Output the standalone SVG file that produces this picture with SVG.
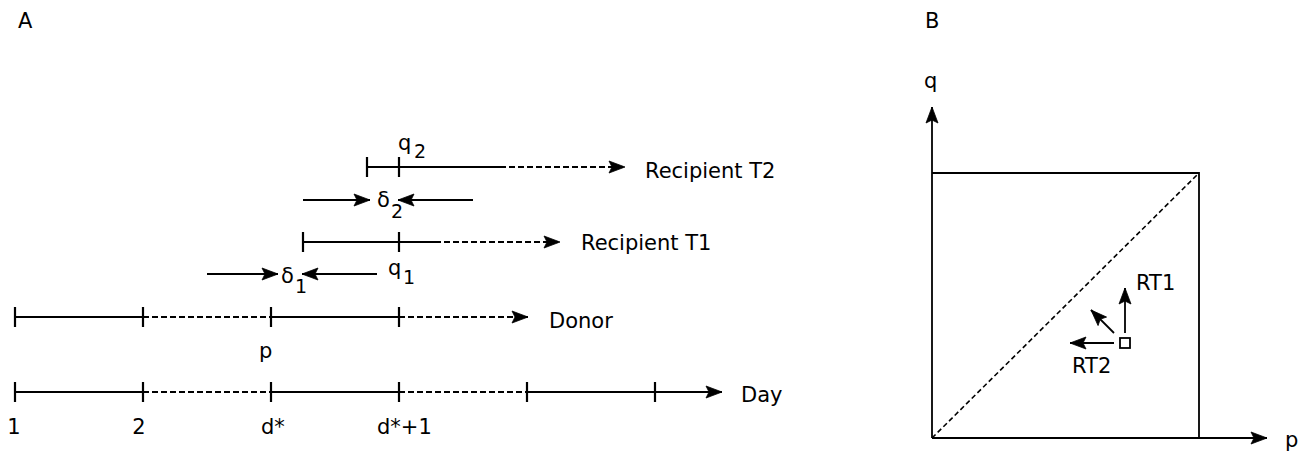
<svg xmlns="http://www.w3.org/2000/svg" width="1303" height="453" viewBox="0 0 1303 453">
<style>
text{font-family:"DejaVu Sans","Liberation Sans",sans-serif;font-size:21px;fill:#000}
.sub{font-size:19px}
.s{stroke:#000;stroke-width:2.2;fill:none}
.d{stroke:#000;stroke-width:2.2;fill:none;stroke-dasharray:6 3}
.b{stroke:#000;stroke-width:1.8;fill:none}
.bd{stroke:#000;stroke-width:1.6;fill:none;stroke-dasharray:5 3}
</style>
<defs>
<marker id="ah" markerUnits="userSpaceOnUse" markerWidth="18" markerHeight="14" viewBox="0 0 18 14" refX="16" refY="7" orient="auto" overflow="visible">
<path d="M0,1 L16,7 L0,13 L3,7 z" fill="#000" stroke="#000" stroke-width="0.8" stroke-linejoin="miter"/>
</marker>
</defs>
<text x="18" y="28">A</text>
<text x="925" y="28">B</text>
<g id="connectors">
<path class="s" d="M367,167 H500 M367,157 V177 M399,157 V177"/>
<path class="d" d="M500,167 H625" marker-end="url(#ah)"/>
<path class="s" d="M303,200 H370" marker-end="url(#ah)"/>
<path class="s" d="M473,200 H398" marker-end="url(#ah)"/>
<path class="s" d="M303,242 H435 M303,232 V252 M399,232 V252"/>
<path class="d" d="M435,242 H560" marker-end="url(#ah)"/>
<path class="s" d="M207,274 H278" marker-end="url(#ah)"/>
<path class="s" d="M377,274 H302" marker-end="url(#ah)"/>
<path class="s" d="M15,317 H143 M271,317 H399 M15,307 V327 M143,307 V327 M271,307 V327 M399,307 V327"/>
<path class="d" d="M143,317 H271"/>
<path class="d" d="M399,317 H528" marker-end="url(#ah)"/>
<path class="s" d="M15,392 H143 M271,392 H399 M15,382 V402 M143,382 V402 M271,382 V402 M399,382 V402 M527,382 V402 M655,382 V402"/>
<path class="d" d="M143,392 H271 M399,392 H527"/>
<path class="s" d="M527,392 H722" marker-end="url(#ah)"/>
<path class="b" d="M932,438 V107" marker-end="url(#ah)"/>
<path class="b" d="M932,438 H1267" marker-end="url(#ah)"/>
<path class="b" d="M932,173 H1199 V438"/>
<path class="bd" d="M932,438 L1199,173"/>
<path class="b" d="M1125,333 V288" marker-end="url(#ah)"/>
<path class="b" d="M1114,333 L1091,310" marker-end="url(#ah)"/>
<path class="b" d="M1114,343 H1070" marker-end="url(#ah)"/>
</g>
<g id="node-recipient-t2">
<text x="645" y="178">Recipient T2</text>
<text x="398" y="150">q</text><text class="sub" x="414" y="158">2</text>
</g>
<g id="node-delta2">
<text x="377" y="207">δ</text><text class="sub" x="391" y="218">2</text>
</g>
<g id="node-recipient-t1">
<text x="581" y="250">Recipient T1</text>
</g>
<g id="node-delta1">
<text x="281" y="283">δ</text><text class="sub" x="295" y="293">1</text>
<text x="388" y="275">q</text><text class="sub" x="403" y="284">1</text>
</g>
<g id="node-donor">
<text x="549" y="328">Donor</text>
<text x="259" y="358">p</text>
</g>
<g id="node-day">
<text x="741" y="402">Day</text>
<text x="14" y="434" text-anchor="middle">1</text>
<text x="139" y="434" text-anchor="middle">2</text>
<text x="261" y="434">d*</text>
<text x="377" y="434">d*+1</text>
</g>
<g id="node-panel-b">
<text x="924" y="88">q</text>
<text x="1285" y="447">p</text>
<rect class="b" x="1120" y="338" width="10" height="10"/>
<text x="1136" y="290">RT1</text>
<text x="1072" y="373">RT2</text>
</g>
</svg>
